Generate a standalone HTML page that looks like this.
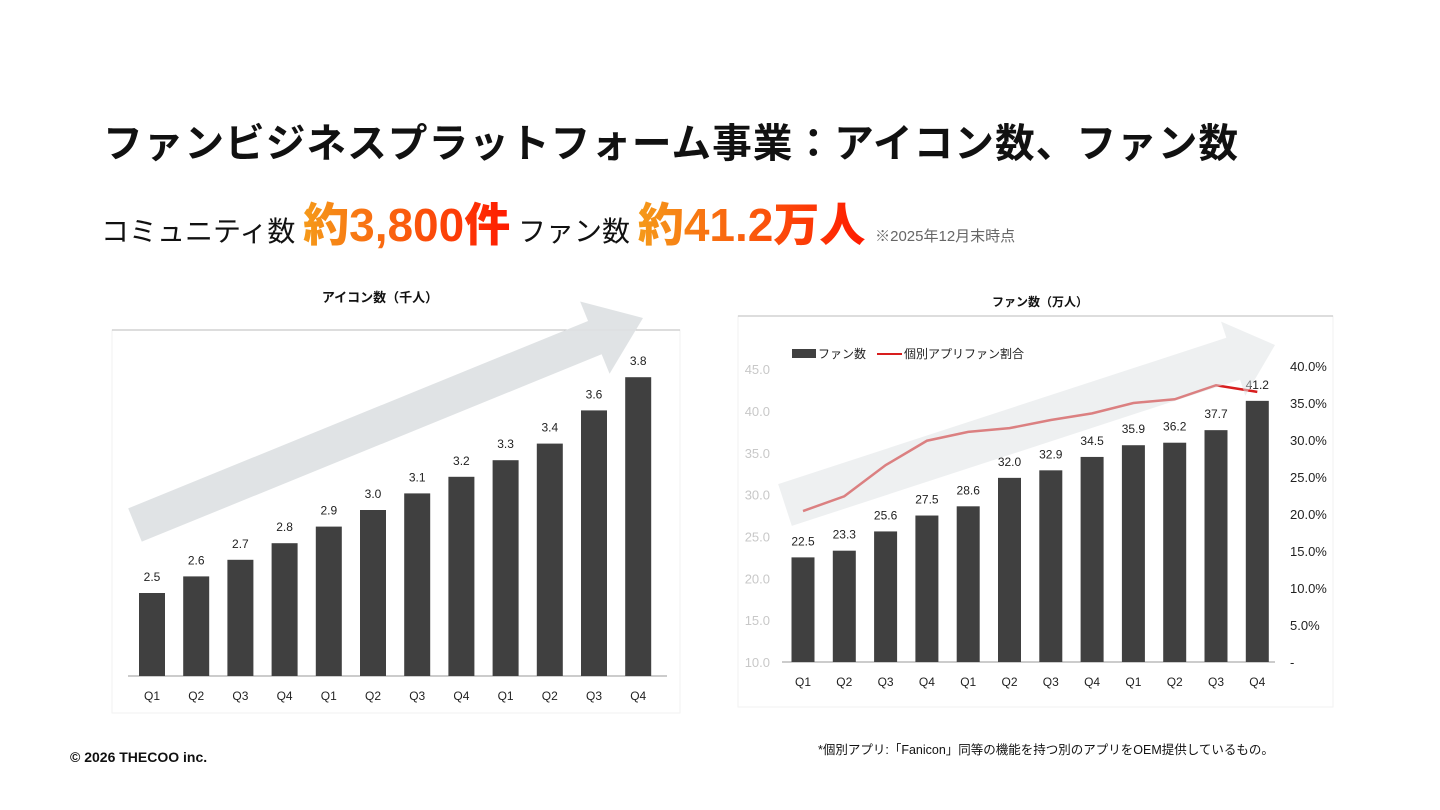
<!DOCTYPE html>
<html><head><meta charset="utf-8">
<style>
body{margin:0;width:1440px;height:810px;background:#fff;position:relative;overflow:hidden;font-family:"Liberation Sans","Noto Sans CJK JP",sans-serif;}
.abs{position:absolute;white-space:nowrap;}
.grad{background:linear-gradient(90deg,#f59a1a,#ff1a00);-webkit-background-clip:text;background-clip:text;color:transparent;font-weight:900;}
</style></head><body>
<div class="abs" style="left:103px;top:112px;font-size:39.7px;font-weight:700;color:#111;letter-spacing:1px;">ファンビジネスプラットフォーム事業：アイコン数、ファン数</div>
<div class="abs" style="left:101px;top:189px;font-size:28px;color:#111;">
<span>コミュニティ数</span>
<span class="grad" style="font-size:46px;">約3,800件</span>
<span>ファン数</span>
<span class="grad" style="font-size:46px;">約41.2万人</span>
<span style="font-size:15px;color:#666;margin-left:2px;">※2025年12月末時点</span>
</div>

<svg id="c1" class="abs" style="left:0;top:0" width="1440" height="810"></svg>

<div class="abs" style="left:70px;top:749px;font-size:14px;font-weight:700;color:#111;">© 2026 THECOO inc.</div>
<div class="abs" style="left:818px;top:739px;font-size:12.5px;color:#111;">*個別アプリ:「Fanicon」同等の機能を持つ別のアプリをOEM提供しているもの。</div>

<script>
const cats=["Q1","Q2","Q3","Q4","Q1","Q2","Q3","Q4","Q1","Q2","Q3","Q4"];
const iconVals=[2.5,2.6,2.7,2.8,2.9,3.0,3.1,3.2,3.3,3.4,3.6,3.8];
const iconLabels=["2.5","2.6","2.7","2.8","2.9","3.0","3.1","3.2","3.3","3.4","3.6","3.8"];
const fanVals=[22.5,23.3,25.6,27.5,28.6,32.0,32.9,34.5,35.9,36.2,37.7,41.2];
const fanLabels=["22.5","23.3","25.6","27.5","28.6","32.0","32.9","34.5","35.9","36.2","37.7","41.2"];
const ratioVals=[20.4,22.4,26.6,29.9,31.1,31.6,32.7,33.6,35.0,35.5,37.4,36.5];
const leftTicks=[10,15,20,25,30,35,40,45];
const rightTicks=[0,5,10,15,20,25,30,35,40];

const NS="http://www.w3.org/2000/svg";
const svg=document.getElementById('c1');
function el(tag,attrs,parent){const e=document.createElementNS(NS,tag);for(const k in attrs)e.setAttribute(k,attrs[k]);(parent||svg).appendChild(e);return e;}
function txt(x,y,s,size,fill,anchor,weight){const t=el('text',{x:x,y:y,'font-size':size,fill:fill,'text-anchor':anchor||'middle','font-family':'Liberation Sans, Noto Sans CJK JP, sans-serif','font-weight':weight||'normal'});t.textContent=s;return t;}
function arrow(x1,y1,x2,y2,w,hw,hl,name,op){
 const ang=Math.atan2(y2-y1,x2-x1)*180/Math.PI;const L=Math.hypot(x2-x1,y2-y1);
 const g=el('g',{transform:`translate(${x1},${y1}) rotate(${ang})`});
 
 
 el('polygon',{points:`0,${-w/2} ${L-hl},${-w/2} ${L-hl},${-hw/2} ${L},0 ${L-hl},${hw/2} ${L-hl},${w/2} 0,${w/2}`,fill:'#dde1e3',opacity:op},g);
}

// ---- Left chart ----
el('rect',{x:112,y:330,width:568,height:383,fill:'#fff',stroke:'#f2f2f2'});
el('line',{x1:112,y1:330,x2:680,y2:330,stroke:'#bbb'});
const t1=txt(380,302,'アイコン数（千人）',13,'#111','middle','bold');

const lx=i=>152+i*44.2, ly=v=>676-(v-2.0)*166;
arrow(135,525,643,318,36,78,52,'icon-growth-arrow',0.92);
el('line',{x1:128,y1:676,x2:667,y2:676,stroke:'#999'});
iconVals.forEach((v,i)=>{
 const r=el('rect',{x:lx(i)-13,y:ly(v),width:26,height:676-ly(v),fill:'#404040'});
 
 
 const l=txt(lx(i),ly(v)-12,iconLabels[i],12,'#222');
 
 const c=txt(lx(i),700,cats[i],12,'#222');
 
});

// ---- Right chart ----
el('rect',{x:738,y:316,width:595,height:391,fill:'#fff',stroke:'#f2f2f2'});
el('line',{x1:738,y1:316,x2:1333,y2:316,stroke:'#bbb'});
const t2=txt(1040,306,'ファン数（万人）',12,'#111','middle','bold');

const rx=i=>803+i*41.3, ry=v=>662-(v-10)*8.37, ry2=p=>662-p*7.4;
leftTicks.forEach(v=>{const t=txt(770,ry(v)+5,v.toFixed(1),13,'#c8c8c8','end');});
rightTicks.forEach(p=>{const t=txt(1290,ry2(p)+5,p===0?'-':p.toFixed(1)+'%',13,'#222','start');});
el('line',{x1:782,y1:662,x2:1275,y2:662,stroke:'#999'});
fanVals.forEach((v,i)=>{
 const r=el('rect',{x:rx(i)-11.5,y:ry(v),width:23,height:662-ry(v),fill:'#404040'});
 
 
 const l=txt(rx(i),ry(v)-12,fanLabels[i],12,'#222');
 
 const c=txt(rx(i),686,cats[i],12,'#222');
 
});
const pts=ratioVals.map((p,i)=>rx(i)+','+ry2(p)).join(' ');
const pl=el('polyline',{points:pts,fill:'none',stroke:'#d81e1e','stroke-width':2.5});


arrow(785,505,1275,345,44,78,44,'fan-growth-arrow',0.5);
// legend
el('rect',{x:792,y:349,width:24,height:9,fill:'#404040'});
const lg1=txt(818,358,'ファン数',12,'#222','start');
el('line',{x1:877,y1:354,x2:902,y2:354,stroke:'#d81e1e','stroke-width':2});
const lg2=txt(904,358,'個別アプリファン割合',12,'#222','start');
</script>
</body></html>
